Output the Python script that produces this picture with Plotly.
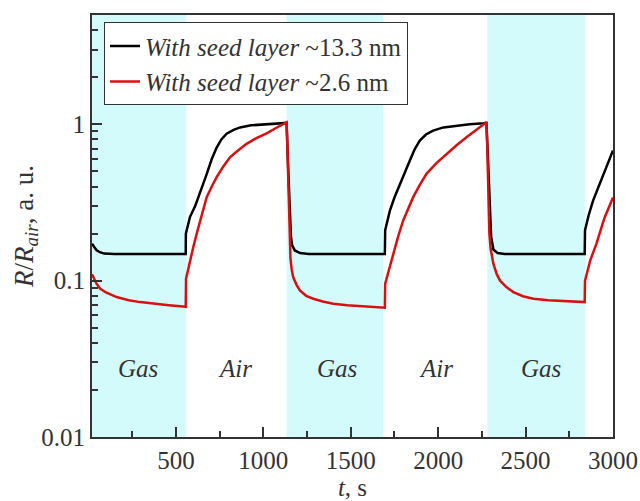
import math
import plotly.graph_objects as go

# ---- data ----
t_black = [20, 30, 45, 65, 90, 150, 300, 450, 556,
           557, 580, 610, 637, 676, 705, 733, 760, 790, 830, 867, 930, 1000, 1060, 1128, 1133,
           1140, 1150, 1158, 1165, 1180, 1210, 1260, 1400, 1550, 1695,
           1697, 1724, 1750, 1781, 1810, 1838, 1865, 1895, 1930, 1971, 2030, 2105, 2180, 2260, 2276,
           2285, 2295, 2303, 2316, 2340, 2380, 2500, 2700, 2838,
           2840, 2860, 2886, 2915, 2943, 2970, 3000]
r_black = [0.172, 0.165, 0.157, 0.152, 0.149, 0.148, 0.148, 0.148, 0.148,
           0.20, 0.255, 0.30, 0.36, 0.48, 0.60, 0.71, 0.80, 0.87, 0.92, 0.955, 0.985, 1.0, 1.01, 1.02, 1.02,
           0.6, 0.3, 0.19, 0.168, 0.156, 0.150, 0.148, 0.148, 0.148, 0.148,
           0.21, 0.281, 0.34, 0.416, 0.50, 0.586, 0.69, 0.787, 0.86, 0.912, 0.955, 0.98, 1.0, 1.015, 1.02,
           0.6, 0.3, 0.19, 0.158, 0.150, 0.148, 0.148, 0.148, 0.148,
           0.21, 0.26, 0.325, 0.39, 0.459, 0.56, 0.68]

t_red = [20, 27, 45, 66, 100, 161, 230, 295, 380, 460, 542, 556,
         558, 580, 600, 619, 645, 676, 705, 733, 770, 809, 855, 904, 960, 1019, 1075, 1120, 1133,
         1138, 1145, 1150, 1155, 1162, 1171, 1190, 1209, 1245, 1286, 1340, 1400, 1480, 1571, 1650, 1695,
         1697, 1720, 1743, 1770, 1800, 1828, 1857, 1895, 1933, 1990, 2048, 2105, 2162, 2215, 2267, 2276,
         2281, 2287, 2293, 2300, 2316, 2335, 2354, 2390, 2430, 2485, 2545, 2630, 2716, 2800, 2838,
         2840, 2870, 2905, 2950, 3000]
r_red = [0.11, 0.105, 0.096, 0.089, 0.084, 0.0785, 0.075, 0.0729, 0.0710, 0.0697, 0.0684, 0.068,
         0.103, 0.135, 0.165, 0.20, 0.26, 0.342, 0.40, 0.459, 0.535, 0.615, 0.68, 0.75, 0.815, 0.876, 0.95, 1.015, 1.03,
         0.7, 0.35, 0.2, 0.14, 0.118, 0.105, 0.094, 0.0866, 0.080, 0.0766, 0.0735, 0.0712, 0.0695, 0.0684, 0.0676, 0.0671,
         0.0955, 0.12, 0.1485, 0.19, 0.2425, 0.29, 0.342, 0.41, 0.482, 0.565, 0.647, 0.735, 0.826, 0.92, 1.015, 1.03,
         0.7, 0.35, 0.2, 0.16, 0.128, 0.11, 0.100, 0.091, 0.0845, 0.0795, 0.0766, 0.0750, 0.0740, 0.0732, 0.0729,
         0.100, 0.135, 0.172, 0.25, 0.34]

gas_start = [20, 1133, 2281]
gas_end = [559, 1686, 2840]

label_t = [285, 840, 1420, 1990, 2590]
label_text = ["Gas", "Air", "Gas", "Air", "Gas"]
label_y = 0.0275

x_major = [500, 1000, 1500, 2000, 2500, 3000]
x_minor = [250, 750, 1250, 1750, 2250, 2750]
y_major = [0.01, 0.1, 1]
y_major_text = ["0.01", "0.1", "1"]
y_minor = [0.02, 0.03, 0.04, 0.05, 0.06, 0.07, 0.08, 0.09,
           0.2, 0.3, 0.4, 0.5, 0.6, 0.7, 0.8, 0.9, 2, 3, 4]

FONT = "Liberation Serif"
AX = "#333333"

fig = go.Figure()
fig.add_trace(go.Scatter(x=t_black, y=r_black, mode="lines",
                         line=dict(color="black", width=2.5),
                         name="<i>With seed layer</i> ~13.3 nm"))
fig.add_trace(go.Scatter(x=t_red, y=r_red, mode="lines",
                         line=dict(color="#d81010", width=2.5),
                         name="<i>With seed layer</i> ~2.6 nm"))

for s, e in zip(gas_start, gas_end):
    fig.add_shape(type="rect", xref="x", yref="paper", x0=s, x1=e, y0=0, y1=1,
                  fillcolor="#d4fbfc", line_width=0, layer="below")

for tx, txt in zip(label_t, label_text):
    fig.add_annotation(x=tx, y=math.log10(label_y), xref="x", yref="y", text=f"<i>{txt}</i>",
                       showarrow=False, font=dict(family=FONT, size=25, color=AX))

fig.update_layout(
    width=640, height=501,
    margin=dict(l=92, r=27, t=15, b=64),
    paper_bgcolor="white", plot_bgcolor="white",
    font=dict(family=FONT, size=25, color=AX),
    showlegend=True,
    legend=dict(x=0.023, y=0.983, xanchor="left", yanchor="top",
                bgcolor="white", bordercolor=AX, borderwidth=1,
                font=dict(family=FONT, size=25, color=AX),
                tracegroupgap=0),
    xaxis=dict(range=[20, 3000], showline=True, mirror=True, linecolor=AX, linewidth=2,
               automargin=False,
               ticks="inside", ticklen=10, tickwidth=1.5, tickcolor=AX,
               tickvals=x_major, showgrid=False, zeroline=False,
               tickfont=dict(family=FONT, size=25, color=AX),
               minor=dict(ticks="inside", ticklen=6, tickwidth=1.5, tickcolor=AX,
                          tickmode="array", tickvals=x_minor, showgrid=False),
               title=dict(text="<i>t</i>, s", font=dict(family=FONT, size=25, color=AX), standoff=4)),
    yaxis=dict(type="log", range=[-2, 0.699], showline=True, mirror=True, linecolor=AX, linewidth=2,
               automargin=False,
               ticks="inside", ticklen=10, tickwidth=1.5, tickcolor=AX,
               tickvals=y_major, ticktext=y_major_text, showgrid=False, zeroline=False,
               tickfont=dict(family=FONT, size=25, color=AX),
               minor=dict(ticks="inside", ticklen=6, tickwidth=1.5, tickcolor=AX,
                          tickmode="array", tickvals=y_minor, showgrid=False),
               title=dict(text="<i>R</i>/<i>R</i><sub><i>air</i></sub>, a. u.",
                          font=dict(family=FONT, size=27, color=AX), standoff=0)),
)

fig.write_html("out.html")
